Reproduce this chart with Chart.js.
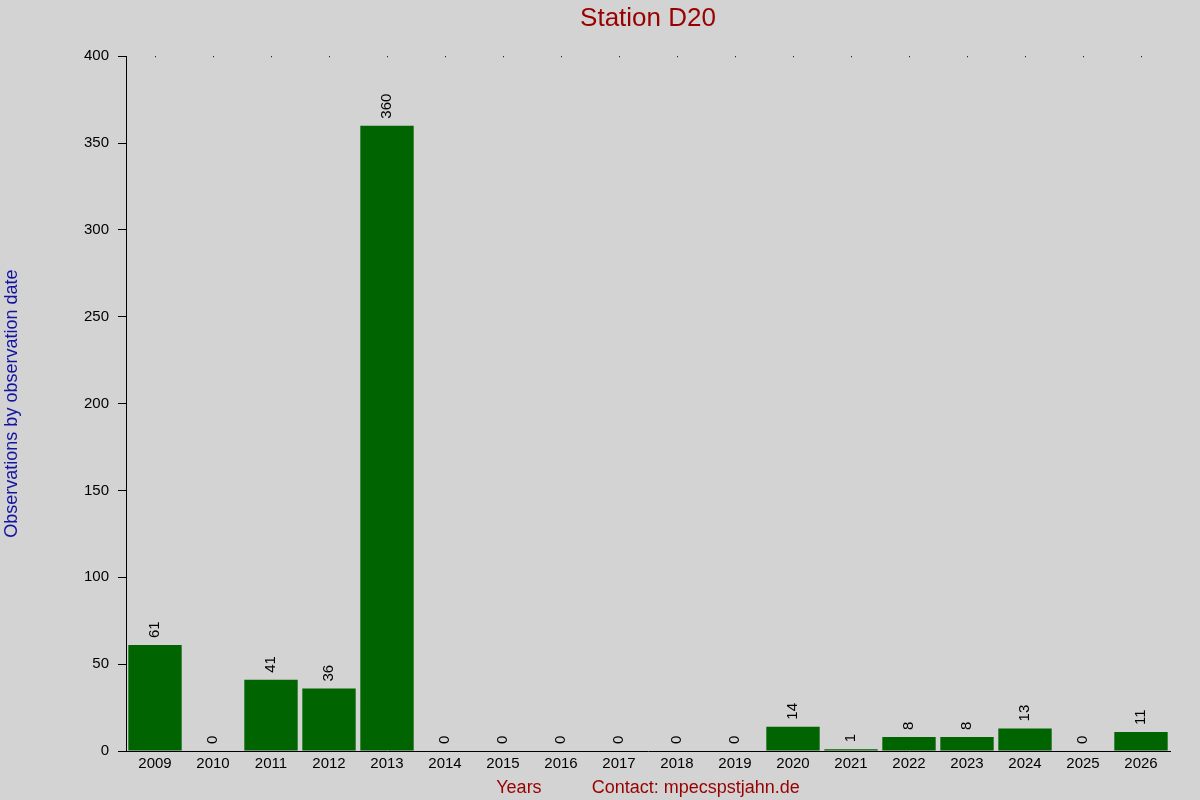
<!DOCTYPE html>
<html>
<head>
<meta charset="utf-8">
<script src="https://cdn.jsdelivr.net/npm/chart.js@4/dist/chart.umd.min.js"></script>
<style>
  body { margin: 0; background: #d3d3d3; }
  #c { display: block; background: #d3d3d3; }
</style>
</head>
<body>
<canvas id="c" width="1200" height="800"></canvas>
<script>
var years = ['2009','2010','2011','2012','2013','2014','2015','2016','2017','2018',
             '2019','2020','2021','2022','2023','2024','2025','2026'];
var observations = [61, 0, 41, 36, 360, 0, 0, 0, 0, 0, 0, 14, 1, 8, 8, 13, 0, 11];
var yTicks = [0, 50, 100, 150, 200, 250, 300, 350, 400];

Chart.defaults.font.family = '"Liberation Sans", Arial, sans-serif';
Chart.defaults.color = '#000';

// rotated value labels above each bar
var valueLabels = {
    id: 'valueLabels',
    afterDatasetsDraw: function(chart) {
        var ctx = chart.ctx;
        var meta = chart.getDatasetMeta(0);
        ctx.save();
        ctx.font = '15px "Liberation Sans", Arial, sans-serif';
        ctx.fillStyle = '#000';
        ctx.textAlign = 'left';
        ctx.textBaseline = 'middle';
        meta.data.forEach(function(bar, i) {
            ctx.save();
            ctx.translate(bar.x, bar.y - 7);
            ctx.rotate(-Math.PI / 2);
            ctx.fillText(String(observations[i]), 0, 0);
            ctx.restore();
        });
        ctx.restore();
    }
};

// small dots along the top edge at every category
var topDots = {
    id: 'topDots',
    afterDraw: function(chart) {
        var ctx = chart.ctx;
        var xs = chart.scales.x;
        ctx.save();
        ctx.fillStyle = '#000';
        xs.ticks.forEach(function(t, i) {
            var x = Math.round(xs.getPixelForTick(i));
            ctx.fillRect(x, chart.chartArea.top, 1, 1);
        });
        ctx.restore();
    }
};

new Chart(document.getElementById('c'), {
    type: 'bar',
    data: {
        labels: years,
        datasets: [{
            label: 'Observations',
            data: observations,
            backgroundColor: '#006400',
            borderWidth: 0,
            barPercentage: 0.92,
            categoryPercentage: 1.0
        }]
    },
    options: {
        responsive: false,
        animation: false,
        devicePixelRatio: 1,
        layout: { padding: { left: 0, right: 30, top: 0, bottom: 1 } },
        plugins: {
            legend: { display: false },
            tooltip: { enabled: false },
            title: {
                display: true,
                fullSize: false,
                text: 'Station D20',
                color: '#990000',
                font: { size: 26, weight: 'normal' },
                padding: { top: 3, bottom: 22 }
            }
        },
        scales: {
            x: {
                afterFit: function(scale) { scale.height = 48; },
                grid: { display: false, drawTicks: false },
                border: { display: true, color: '#000', width: 1 },
                ticks: { font: { size: 15 }, color: '#000', padding: 4, maxRotation: 0, autoSkip: false },
                title: {
                    display: true,
                    text: 'Years          Contact: mpecspstjahn.de',
                    color: '#990000',
                    font: { size: 18 },
                    padding: { top: 5, bottom: 0 }
                }
            },
            y: {
                min: 0,
                max: 400,
                afterBuildTicks: function(scale) {
                    scale.ticks = yTicks.map(function(v) { return { value: v }; });
                },
                afterFit: function(scale) { scale.width = 126; },
                grid: { drawOnChartArea: false, drawTicks: true, tickLength: 8, tickColor: '#000' },
                border: { display: true, color: '#000', width: 1 },
                ticks: { font: { size: 15 }, color: '#000', padding: 9 },
                title: {
                    display: true,
                    text: 'Observations by observation date',
                    color: '#1414a0',
                    font: { size: 18 },
                    padding: { top: 1, bottom: 0 }
                }
            }
        }
    },
    plugins: [valueLabels, topDots]
});
</script>
</body>
</html>
